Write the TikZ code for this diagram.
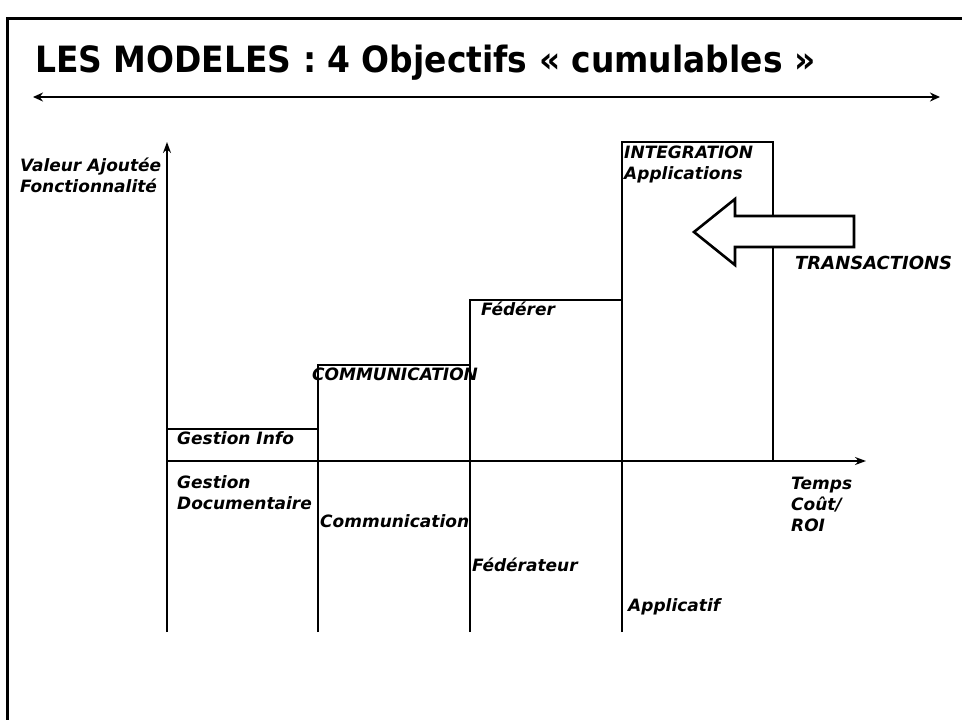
\documentclass[tikz,border=0pt]{standalone}
\usepackage{fontspec}
\setmainfont{DejaVu Sans}
\newfontfamily\titlefont{DejaVu Sans Condensed Bold}
\usetikzlibrary{arrows.meta}
\tikzset{
  frame/.style={line width=3pt},
  stepline/.style={line width=1.3pt},
  axis/.style={line width=1.4pt,-{Stealth[length=11pt,width=8pt]}},
  lbl/.style={anchor=base west,inner sep=0pt,font=\fontsize{17}{21}\selectfont\bfseries\itshape,align=left},
  bigarrow/.style={line width=2.6pt,fill=white,line join=miter}
}
\begin{document}
\begin{tikzpicture}[x=1pt,y=-1pt]
\useasboundingbox (0,0) rectangle (962,720);
% slide frame
\draw[frame] (7,722) -- (7,18) -- (964,18);
% title and rule
\node[anchor=base west,inner sep=0pt] (title) at (35,73)
  {\resizebox{780pt}{27.5pt}{\titlefont LES MODELES : 4 Objectifs « cumulables »}};
\coordinate (ruleL) at (33,97);
\coordinate (ruleR) at (940,97);
\draw[line width=1.6pt,{Stealth[length=10pt,width=9pt]}-{Stealth[length=10pt,width=9pt]}] (ruleL) -- (ruleR);
% axes
\coordinate (origin) at (167,461);
\coordinate (ytop) at (167,142);
\coordinate (xend) at (866,461);
\coordinate (ybot) at (167,632);
\draw[stepline] (ybot) -- (origin);
\draw[axis] (origin) -- (ytop);
\draw[axis] (origin) -- (xend);
% staircase of cumulative levels
\coordinate (s1) at (318,632);
\coordinate (s2) at (470,632);
\coordinate (s3) at (622,632);
\draw[stepline] (167,429) -- (318,429);
\draw[stepline] (s1) -- (318,365) -- (470,365);
\draw[stepline] (s2) -- (470,300) -- (622,300);
\draw[stepline] (s3) -- (622,142) -- (773,142) -- (773,461);
% hollow arrow
\draw[bigarrow] (854,216) -- (735,216) -- (735,199) -- (694,232) -- (735,265) -- (735,247) -- (854,247) -- cycle;
% labels (anchored on the baseline of their last line)
\node[lbl] (yl) at (20,192) {Valeur Ajoutée\\Fonctionnalité};
\node[lbl] (l1) at (177,444) {Gestion Info};
\node[lbl] (l2) at (312,380) {COMMUNICATION};
\node[lbl] (l3) at (481,315) {Fédérer};
\node[lbl] (l4) at (624,179) {INTEGRATION\\Applications};
\node[lbl,font=\fontsize{18}{21}\selectfont\bfseries\itshape] (tr) at (795,269) {TRANSACTIONS};
\node[lbl] (b1) at (177,509) {Gestion\\Documentaire};
\node[lbl] (b2) at (320,527) {Communication};
\node[lbl] (b3) at (472,571) {Fédérateur};
\node[lbl] (b4) at (628,611) {Applicatif};
\node[lbl] (xl) at (791,531) {Temps\\Coût/\\ROI};
\end{tikzpicture}
\end{document}
